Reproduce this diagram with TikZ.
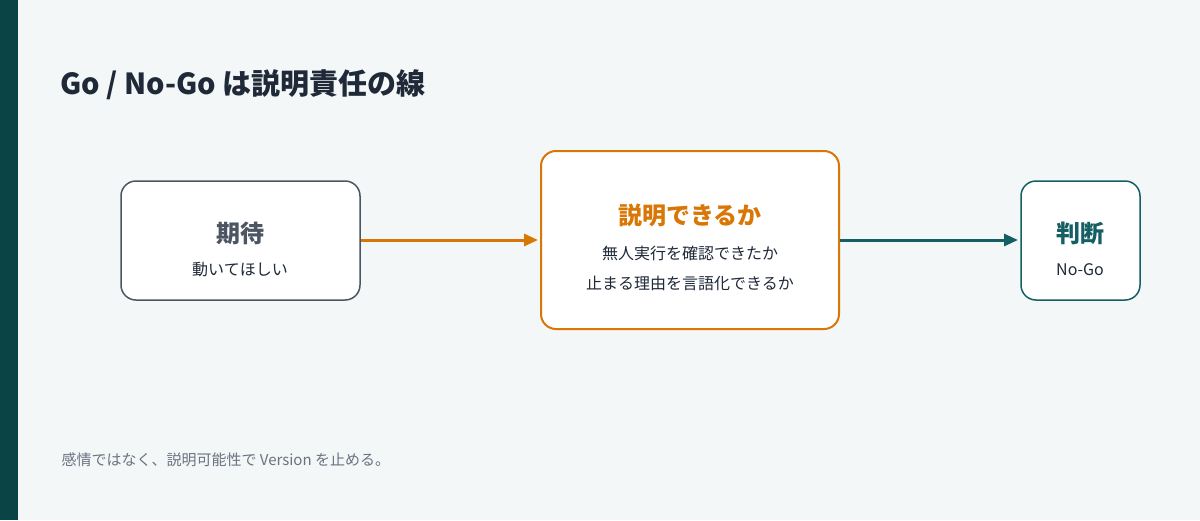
\documentclass[tikz,border=0pt]{standalone}
\usepackage{fontspec}
\setmainfont{Noto Sans CJK JP}
\usetikzlibrary{arrows.meta}
\definecolor{bg}{HTML}{F3F7F8}
\definecolor{bar}{HTML}{0B4444}
\definecolor{ink}{HTML}{1F2937}
\definecolor{gr}{HTML}{4B5563}
\definecolor{org}{HTML}{D97706}
\definecolor{tl}{HTML}{155E63}
\definecolor{ft}{HTML}{6B7280}
\tikzset{
 box/.style={draw, line width=1.5pt, rounded corners=15pt, fill=white},
 h/.style={font=\fontsize{24}{28}\selectfont\bfseries},
 s/.style={font=\fontsize{16}{19}\selectfont, text=ink},
 arr/.style={line width=3pt, -{Triangle[length=14pt,width=12pt]}}
}
\begin{document}
\begin{tikzpicture}[x=1pt,y=-1pt]
\fill[bg] (0,0) rectangle (1200,520);
\useasboundingbox (0,0) rectangle (1200,520);
\fill[bar] (0,0) rectangle (18,520);
\node[anchor=west, text=ink, font=\fontsize{29}{33}\selectfont\bfseries] (title) at (57,85) {Go / No-Go は説明責任の線};
\draw[box, draw=gr] (121,181) rectangle (360,300);
\node[h, text=gr] (n1) at (240,233) {期待};
\node[s] (n1s) at (240,270) {動いてほしい};
\draw[box, draw=org, line width=2pt] (541,151) rectangle (839,329);
\node[h, text=org] (n2) at (690,215) {説明できるか};
\node[s] (n2a) at (690,253) {無人実行を確認できたか};
\node[s] (n2b) at (690,283) {止まる理由を言語化できるか};
\draw[box, draw=tl] (1021,181) rectangle (1140,300);
\node[h, text=tl] (n3) at (1080,233) {判断};
\node[s] (n3s) at (1080,270) {No-Go};
\coordinate (a1) at (361,240); \coordinate (b1) at (538,240);
\coordinate (a2) at (840,240); \coordinate (b2) at (1018,240);
\draw[arr, org] (a1) -- (b1);
\draw[arr, tl] (a2) -- (b2);
\node[anchor=west, text=ft, font=\fontsize{15}{18}\selectfont] (foot) at (58,460) {感情ではなく、説明可能性で Version を止める。};
\end{tikzpicture}
\end{document}
